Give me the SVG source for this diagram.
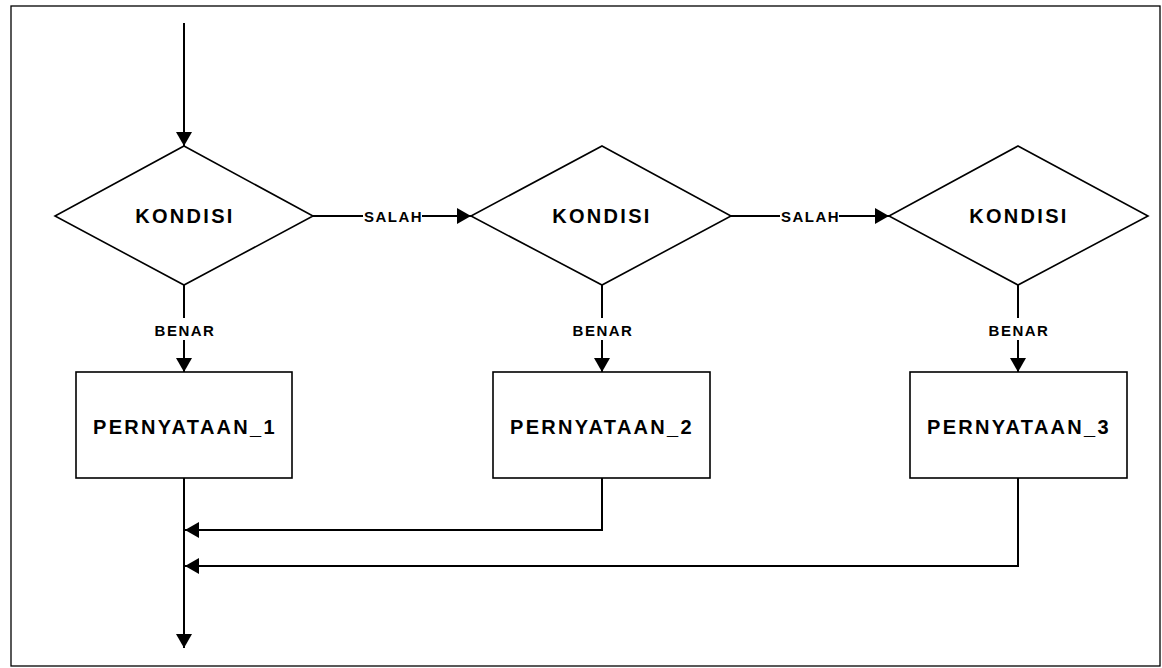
<svg xmlns="http://www.w3.org/2000/svg" width="1162" height="668" viewBox="0 0 1162 668">
<defs>
<marker id="ah" markerWidth="14" markerHeight="16" viewBox="0 0 14 16" refX="14" refY="8" orient="auto" markerUnits="userSpaceOnUse">
<path d="M0,0 L14,8 L0,16 z" fill="#000"/>
</marker>
<style>
.frame{fill:#fff;stroke:#000;stroke-width:1.3}
.shape{fill:#fff;stroke:#000;stroke-width:1.6}
.conn{fill:none;stroke:#000;stroke-width:2}
.big{font-family:"Liberation Sans",Arial,sans-serif;font-weight:bold;font-size:20px;fill:#000;text-anchor:middle;letter-spacing:2.3px}
.small{font-family:"Liberation Sans",Arial,sans-serif;font-weight:bold;font-size:15px;fill:#000;text-anchor:middle;letter-spacing:1.5px}
.lbg{fill:#fff}
</style>
</defs>
<rect class="frame" x="11" y="6" width="1149" height="660"/>
<g id="connectors">
<path class="conn" d="M184,23 V146" marker-end="url(#ah)"/>
<path class="conn" d="M313,216 H471" marker-end="url(#ah)"/>
<path class="conn" d="M731,216 H889" marker-end="url(#ah)"/>
<path class="conn" d="M184,285 V372" marker-end="url(#ah)"/>
<path class="conn" d="M602,285 V372" marker-end="url(#ah)"/>
<path class="conn" d="M1018,285 V372" marker-end="url(#ah)"/>
<path class="conn" d="M184,478 V648" marker-end="url(#ah)"/>
<path class="conn" d="M602,478 V530 H185" marker-end="url(#ah)"/>
<path class="conn" d="M1018,478 V566 H185" marker-end="url(#ah)"/>
<rect class="lbg" x="363" y="207" width="59" height="18"/>
<text class="small" x="393.5" y="222">SALAH</text>
<rect class="lbg" x="780" y="207" width="59" height="18"/>
<text class="small" x="810.5" y="222">SALAH</text>
<rect class="lbg" x="152" y="318" width="64" height="22"/>
<text class="small" x="185" y="336">BENAR</text>
<rect class="lbg" x="570" y="318" width="64" height="22"/>
<text class="small" x="603" y="336">BENAR</text>
<rect class="lbg" x="986" y="318" width="64" height="22"/>
<text class="small" x="1019" y="336">BENAR</text>
</g>
<g id="kondisi1">
<polygon class="shape" points="184,146 313,216 184,285 55,216"/>
<text class="big" x="185" y="223">KONDISI</text>
</g>
<g id="kondisi2">
<polygon class="shape" points="602,146 731,216 602,285 471,216"/>
<text class="big" x="602" y="223">KONDISI</text>
</g>
<g id="kondisi3">
<polygon class="shape" points="1018,146 1148,216 1018,285 889,216"/>
<text class="big" x="1019" y="223">KONDISI</text>
</g>
<g id="pernyataan1">
<rect class="shape" x="76" y="372" width="216" height="106"/>
<text class="big" x="185" y="434">PERNYATAAN_1</text>
</g>
<g id="pernyataan2">
<rect class="shape" x="493" y="372" width="217" height="106"/>
<text class="big" x="602" y="434">PERNYATAAN_2</text>
</g>
<g id="pernyataan3">
<rect class="shape" x="910" y="372" width="217" height="106"/>
<text class="big" x="1019" y="434">PERNYATAAN_3</text>
</g>
</svg>
